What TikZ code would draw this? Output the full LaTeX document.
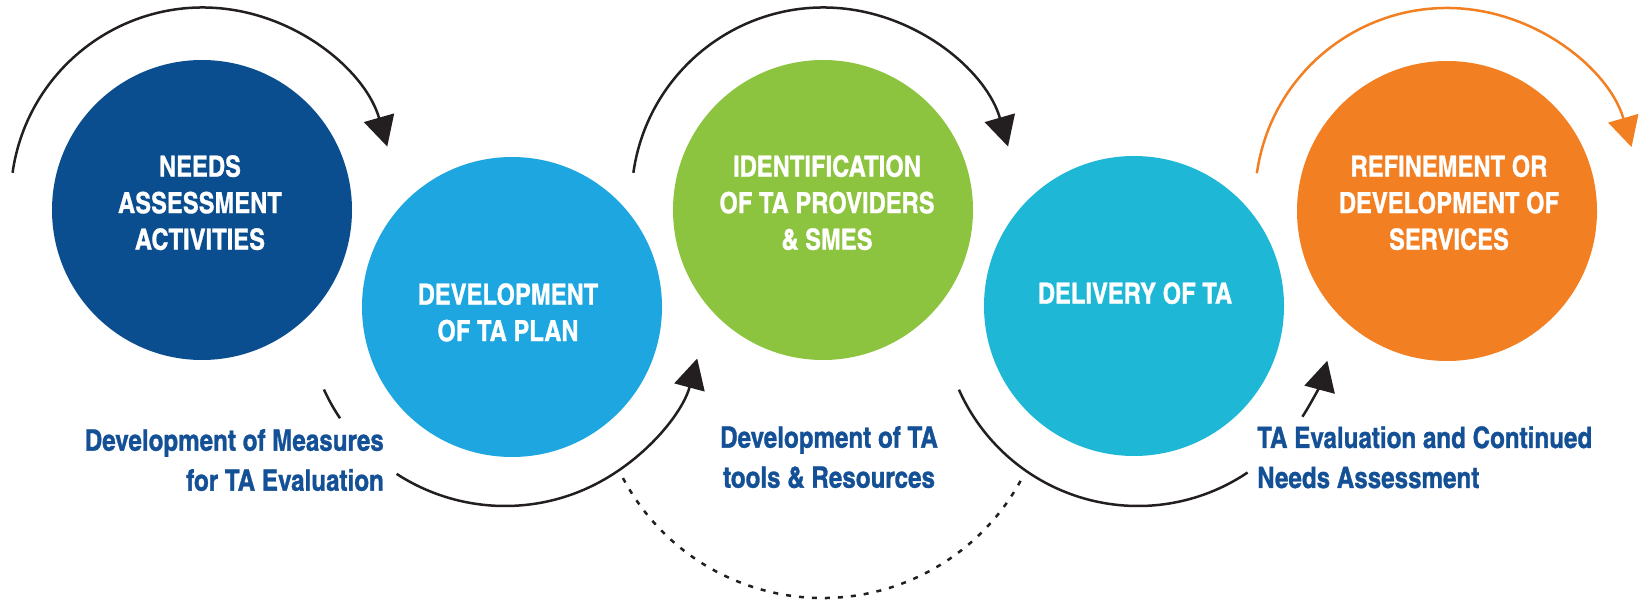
\documentclass[tikz,border=0pt]{standalone}
\usepackage{fontspec}
\newfontfamily\hcn[FakeBold=1]{texgyreheroscn-bold.otf}
\usetikzlibrary{arrows.meta}
\definecolor{cNavy}{HTML}{0B4E8F}
\definecolor{cSky}{HTML}{1DA6DF}
\definecolor{cGreen}{HTML}{8DC43F}
\definecolor{cCyan}{HTML}{1EB8D6}
\definecolor{cOrange}{HTML}{F27F22}
\definecolor{labblue}{HTML}{145096}
\definecolor{arrowblack}{HTML}{231F20}
\begin{document}
\begin{tikzpicture}[x=1pt,y=-1pt,
  stage/.style={circle,minimum size=300pt,inner sep=0pt,draw=none},
  ctext/.style={text=white,font=\hcn\fontsize{29pt}{36.5pt}\selectfont,align=center,inner sep=0pt,anchor=north},
  lab/.style={text=labblue,font=\hcn\fontsize{29.5pt}{40pt}\selectfont,inner sep=0pt},
  flow/.style={line width=2.5pt,draw=arrowblack},
  tipA/.style={-{Triangle[length=30pt,width=31pt]}},
]
\useasboundingbox (0,0) rectangle (1641,601);

% stages
\node[stage,fill=cNavy]   (c1) at (202,210) {};
\node[stage,fill=cSky]    (c2) at (512,307) {};
\node[stage,fill=cGreen]  (c3) at (823,210) {};
\node[stage,fill=cCyan]   (c4) at (1134,306) {};
\node[stage,fill=cOrange] (c5) at (1447,211) {};

\node[ctext] (t1) at (200,155) {NEEDS\\ASSESSMENT\\ACTIVITIES};
\node[ctext] (t2) at (508,283) {DEVELOPMENT\\OF TA PLAN};
\node[ctext] (t3) at (827,155) {IDENTIFICATION\\OF TA PROVIDERS\\\& SMES};
\node[ctext] (t4) at (1135,282) {DELIVERY OF TA};
\node[ctext] (t5) at (1449,155) {REFINEMENT OR\\DEVELOPMENT OF\\SERVICES};

% labels
\node[lab,align=right,anchor=north east] (l1) at (384,429) {Development of Measures\\for TA Evaluation};
\node[lab,align=center,anchor=north] (l2) at (829,426) {Development of TA\\tools \& Resources};
\node[lab,align=left,anchor=north west] (l3) at (1257,426) {TA Evaluation and Continued\\Needs Assessment};

% arc centres
\coordinate (o1) at (202.7,199.5);
\coordinate (o3) at (823.5,199.5);
\coordinate (o5) at (1447,200);
\coordinate (o2) at (505,307);
\coordinate (o4) at (1138,310);
\coordinate (o6) at (822.5,372);

% top arcs
\draw[flow,tipA] ([shift={(188:192)}]o1) arc[start angle=188,end angle=344,radius=192];
\draw[flow,tipA] ([shift={(188:192)}]o3) arc[start angle=188,end angle=344,radius=192];
\draw[flow,draw=cOrange,tipA] ([shift={(188:192)}]o5) arc[start angle=188,end angle=344,radius=192];

% bottom arcs
\draw[flow] ([shift={(155.5:199)}]o2) arc[start angle=155.5,end angle=146,radius=199];
\draw[flow,tipA] ([shift={(123:199)}]o2) arc[start angle=123,end angle=15,radius=199];
\draw[flow] ([shift={(156:196)}]o4) arc[start angle=156,end angle=56,radius=196];
\draw[flow,tipA] ([shift={(33:196)}]o4) arc[start angle=33,end angle=15,radius=196];

% dashed return arc
\draw[flow,dash pattern=on 5pt off 8pt] ([shift={(152:226)}]o6) arc[start angle=152,end angle=28,radius=226];
\end{tikzpicture}
\end{document}
